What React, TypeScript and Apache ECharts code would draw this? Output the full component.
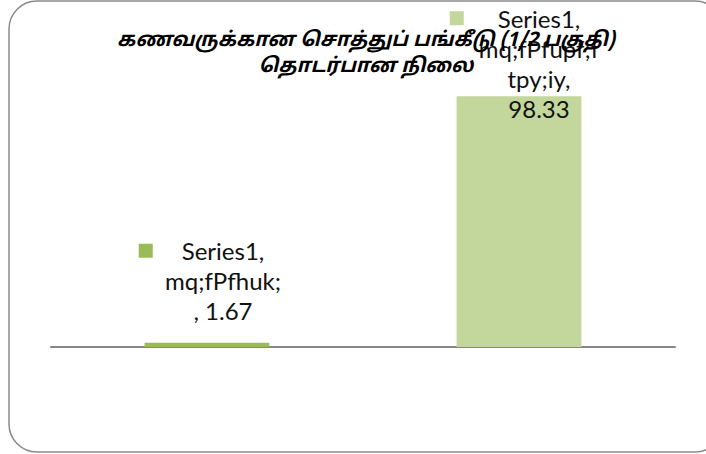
import React, { useEffect, useRef } from "react";
import * as echarts from "echarts";

const titleLines = ["கணவருக்கான சொத்துப் பங்கீடு (1/2 பகுதி)", "தொடர்பான நிலை"];
const seriesName = "Series1";
const categories = ["mq;fPfhuk;", "mq;fPfupf;f tpy;iy"];
const values = [1.67, 98.33];
const labelLines = [
  ["Series1,", "mq;fPfhuk;", ", 1.67"],
  ["Series1,", "mq;fPfupf;f", "tpy;iy,", "98.33"],
];
const barColors = ["#9BBB59", "#C3D69B"];

export default function App() {
  const ref = useRef<HTMLDivElement>(null);
  useEffect(() => {
    if (!ref.current) return;
    const chart = echarts.init(ref.current, null, { renderer: "svg" });
    const font = "Lato, 'Liberation Sans', sans-serif";
    const makeRich = (color: string, sp: number) => ({
      k: { width: 14, height: 14, backgroundColor: color, lineHeight: 30 },
      sp: { width: sp, height: 14, lineHeight: 30 },
      bal: { width: 14 + sp, height: 14, lineHeight: 30 },
      t: { fontSize: 24, fontFamily: font, color: "#111", lineHeight: 30 },
    });
    const fmt = (lines: string[]) =>
      lines
        .map((l, i) => (i === 0 ? `{k|}{sp|}{t|${l}}{bal|}` : `{t|${l}}`))
        .join("\n");
    const spacers = [29, 34];
    const offsets = [
      [16, -12],
      [20, 32],
    ];
    chart.setOption({
      animation: false,
      title: {
        text: titleLines.join("\n"),
        left: 361,
        top: 23,
        textAlign: "center",
        textStyle: {
          fontSize: 20,
          fontWeight: "bold",
          fontStyle: "italic",
          fontFamily: "'Noto Sans Tamil', 'Noto Sans', sans-serif",
          color: "#000",
          lineHeight: 26,
        },
      },
      graphic: [
        {
          type: "rect",
          shape: { x: 9, y: 1, width: 714, height: 451, r: 28 },
          style: { fill: "none", stroke: "#8a8a8a", lineWidth: 1.5 },
          silent: true,
          z: -1,
        },
      ],
      grid: { left: 51, right: 31, top: 92, bottom: 107 },
      xAxis: {
        type: "category",
        data: categories,
        axisLine: { lineStyle: { color: "#878787", width: 2 } },
        axisTick: { show: false },
        axisLabel: { show: false },
      },
      yAxis: {
        type: "value",
        min: 0,
        max: 100,
        show: false,
        splitLine: { show: false },
      },
      series: [
        {
          name: seriesName,
          type: "bar",
          barWidth: "40%",
          data: values.map((v, i) => ({
            value: v,
            itemStyle: { color: barColors[i] },
            label: {
              show: true,
              position: "top",
              distance: 5,
              offset: offsets[i],
              align: "center",
              formatter: fmt(labelLines[i]),
              rich: makeRich(barColors[i], spacers[i]),
            },
          })),
        },
      ],
    });
    return () => chart.dispose();
  }, []);
  return (
    <div
      ref={ref}
      style={{ position: "absolute", left: 0, top: 0, width: 706, height: 454 }}
    />
  );
}
